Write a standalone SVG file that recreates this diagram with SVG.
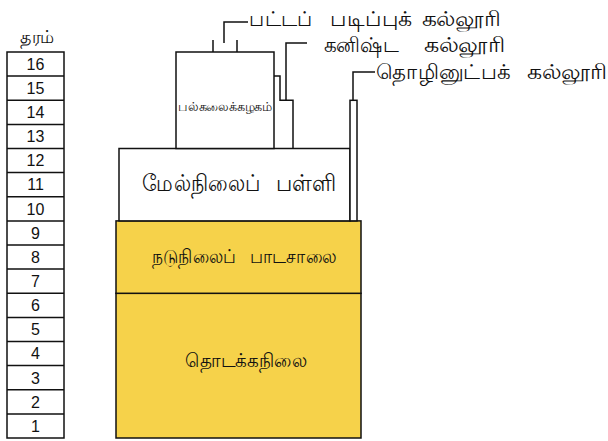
<svg xmlns="http://www.w3.org/2000/svg" width="608" height="441" viewBox="0 0 608 441">
<style>
.ln{fill:none;stroke:#111;stroke-width:1.5}
.bx{fill:#fff;stroke:#111;stroke-width:1.5}
.yl{fill:#F6D24A;stroke:#111;stroke-width:1.5}
.ta{font-family:"Noto Sans",sans-serif;fill:#111}
.num{font-family:"Liberation Sans",Arial,sans-serif;font-size:16px;fill:#111;text-anchor:middle}
</style>
<rect width="608" height="441" fill="#fff"/>
<g id="grades">
<text class="ta" x="20" y="43" font-size="18" textLength="34" lengthAdjust="spacingAndGlyphs">தரம்</text>
<rect class="bx" x="7" y="52" width="57" height="386"/>
<path class="ln" d="M7 76.1H64M7 100.3H64M7 124.4H64M7 148.5H64M7 172.6H64M7 196.8H64M7 220.9H64M7 245H64M7 269.1H64M7 293.3H64M7 317.4H64M7 341.5H64M7 365.6H64M7 389.8H64M7 413.9H64"/>
<text class="num" x="35.5" y="70">16</text>
<text class="num" x="35.5" y="94">15</text>
<text class="num" x="35.5" y="118">14</text>
<text class="num" x="35.5" y="142">13</text>
<text class="num" x="35.5" y="166">12</text>
<text class="num" x="35.5" y="190">11</text>
<text class="num" x="35.5" y="215">10</text>
<text class="num" x="35.5" y="239">9</text>
<text class="num" x="35.5" y="263">8</text>
<text class="num" x="35.5" y="287">7</text>
<text class="num" x="35.5" y="311">6</text>
<text class="num" x="35.5" y="335">5</text>
<text class="num" x="35.5" y="359">4</text>
<text class="num" x="35.5" y="384">3</text>
<text class="num" x="35.5" y="408">2</text>
<text class="num" x="35.5" y="432">1</text>
</g>
<g id="primary">
<rect class="yl" x="116" y="293.3" width="245" height="144.7"/>
<text class="ta" x="185" y="367" font-size="19" textLength="122" lengthAdjust="spacingAndGlyphs">தொடக்கநிலை</text>
</g>
<g id="middle">
<rect class="yl" x="116" y="220.9" width="245" height="72.4"/>
<text class="ta" y="263" font-size="19"><tspan x="152" textLength="84" lengthAdjust="spacingAndGlyphs">நடுநிலைப்</tspan><tspan x="250" textLength="87" lengthAdjust="spacingAndGlyphs">பாடசாலை</tspan></text>
</g>
<g id="secondary">
<rect class="bx" x="119" y="148.5" width="231" height="72.4"/>
<text class="ta" y="191" font-size="23"><tspan x="142" textLength="118" lengthAdjust="spacingAndGlyphs">மேல்நிலைப்</tspan><tspan x="276" textLength="60" lengthAdjust="spacingAndGlyphs">பள்ளி</tspan></text>
</g>
<g id="university">
<rect class="bx" x="176" y="52" width="98" height="96.5"/>
<text class="ta" x="178" y="111" font-size="13" textLength="94" lengthAdjust="spacingAndGlyphs">பல்கலைக்கழகம்</text>
</g>
<g id="junior-college">
<path class="ln" d="M274 76.1H280V100.3H293V148.5"/>
</g>
<g id="technical-college">
<rect class="bx" x="350" y="100.3" width="7" height="120.6"/>
</g>
<g id="connectors">
<path class="ln" d="M213 40V52M237 40V52M224 43V22H248"/>
<path class="ln" d="M286 100.3V43H307"/>
<path class="ln" d="M353 100.3V72H375"/>
</g>
<g id="labels">
<text class="ta" y="26" font-size="21"><tspan x="249" textLength="64" lengthAdjust="spacingAndGlyphs">பட்டப்</tspan><tspan x="330" textLength="82" lengthAdjust="spacingAndGlyphs">படிப்புக்</tspan><tspan x="422" textLength="79" lengthAdjust="spacingAndGlyphs">கல்லூரி</tspan></text>
<text class="ta" y="52" font-size="21"><tspan x="324" textLength="75" lengthAdjust="spacingAndGlyphs">கனிஷ்ட</tspan><tspan x="424" textLength="81" lengthAdjust="spacingAndGlyphs">கல்லூரி</tspan></text>
<text class="ta" y="79" font-size="21"><tspan x="376" textLength="134" lengthAdjust="spacingAndGlyphs">தொழினுட்பக்</tspan><tspan x="527" textLength="80" lengthAdjust="spacingAndGlyphs">கல்லூரி</tspan></text>
</g>
</svg>
